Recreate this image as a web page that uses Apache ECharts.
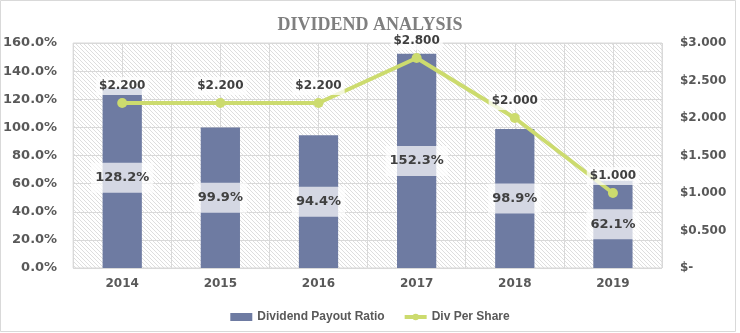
<!DOCTYPE html>
<html>
<head>
<meta charset="utf-8">
<script src="https://cdn.jsdelivr.net/npm/echarts@6/dist/echarts.min.js"></script>
<style>
html,body{margin:0;padding:0;background:#fff;}
#chart{width:740px;height:333px;}
</style>
</head>
<body>
<div id="chart"></div>
<script>
const categories = ['2014', '2015', '2016', '2017', '2018', '2019'];
const payoutRatio = [128.2, 99.9, 94.4, 152.3, 98.9, 62.1];
const divPerShare = [2.2, 2.2, 2.2, 2.8, 2.0, 1.0];
const seriesNames = ['Dividend Payout Ratio', 'Div Per Share'];
const titleText = 'DIVIDEND ANALYSIS';

// diagonal hatch pattern
const pc = document.createElement('canvas');
pc.width = 4; pc.height = 4;
const pctx = pc.getContext('2d');
pctx.fillStyle = '#ffffff';
pctx.fillRect(0, 0, 4, 4);
pctx.fillStyle = '#DEDEDE';
for (let y = 0; y < 4; y++) {
  for (let x = 0; x < 4; x++) {
    if (((x - y) % 4 + 4) % 4 === 0) pctx.fillRect(x, y, 1, 1);
  }
}

const chart = echarts.init(document.getElementById('chart'), null, {renderer: 'canvas'});
const axisFont = {fontFamily: 'DejaVu Sans', fontWeight: 'bold', color: '#595959'};

chart.setOption({
  animation: false,
  backgroundColor: '#ffffff',
  title: {
    text: titleText,
    left: 'center',
    top: 11,
    textStyle: {fontFamily: 'Liberation Serif', fontWeight: 'bold', fontSize: 18, color: '#7F7F7F'}
  },
  graphic: [{
    type: 'rect', silent: true, z: -10,
    shape: {x: 0.5, y: 0.5, width: 735, height: 331},
    style: {fill: 'none', stroke: '#D9D9D9', lineWidth: 1}
  }],
  legend: {
    top: 306,
    left: 'center',
    itemGap: 18,
    itemWidth: 22,
    itemHeight: 8,
    textStyle: {fontFamily: 'Liberation Sans', fontWeight: 'bold', fontSize: 12, color: '#595959'},
    data: [
      {name: seriesNames[0], icon: 'rect'},
      {name: seriesNames[1], lineStyle: {width: 4}}
    ]
  },
  grid: {
    left: 73, right: 78, top: 43, bottom: 65,
    show: true,
    borderColor: '#D9D9D9',
    borderWidth: 1,
    backgroundColor: {image: pc, repeat: 'repeat'}
  },
  xAxis: [{
    type: 'category',
    data: categories,
    axisLine: {show: false},
    axisTick: {show: false},
    splitLine: {show: false},
    axisLabel: Object.assign({fontSize: 12, margin: 10}, axisFont)
  }, {
    type: 'value',
    position: 'top',
    min: 0, max: 12, interval: 1,
    axisLine: {show: false},
    axisTick: {show: false},
    axisLabel: {show: false},
    splitLine: {show: true, lineStyle: {color: '#D9D9D9', width: 1}}
  }],
  yAxis: [{
    type: 'value',
    min: 0, max: 160, interval: 20,
    axisLine: {show: false},
    axisTick: {show: false},
    splitLine: {show: true, lineStyle: {color: '#D9D9D9', width: 1}},
    axisLabel: Object.assign({fontSize: 13, margin: 16, formatter: v => v.toFixed(1) + '%'}, axisFont)
  }, {
    type: 'value',
    position: 'right',
    min: 0, max: 3, interval: 0.5,
    axisLine: {show: false},
    axisTick: {show: false},
    splitLine: {show: false},
    axisLabel: Object.assign({fontSize: 12, margin: 18, formatter: v => v === 0 ? '$-' : '$' + v.toFixed(3)}, axisFont)
  }],
  series: [{
    name: seriesNames[0],
    type: 'bar',
    xAxisIndex: 0, yAxisIndex: 0,
    data: payoutRatio,
    barWidth: '40%',
    itemStyle: {color: '#6E7BA2'},
    label: {
      show: true,
      position: 'inside',
      formatter: p => p.value.toFixed(1) + '%',
      fontFamily: 'DejaVu Sans', fontWeight: 'bold', fontSize: 13,
      color: '#404040',
      backgroundColor: 'rgba(255,255,255,0.7)',
      padding: [8, 4],
      lineHeight: 14
    }
  }, {
    name: seriesNames[1],
    type: 'line',
    xAxisIndex: 0, yAxisIndex: 1,
    data: divPerShare,
    symbol: 'circle',
    symbolSize: 10,
    lineStyle: {color: '#CCDB6E', width: 4},
    itemStyle: {color: '#CCDB6E'},
    z: 3,
    label: {
      show: true,
      position: 'top',
      distance: 3,
      formatter: p => '$' + p.value.toFixed(3),
      fontFamily: 'DejaVu Sans', fontWeight: 'bold', fontSize: 12,
      color: '#404040',
      backgroundColor: 'rgba(255,255,255,0.75)',
      padding: [3, 3]
    }
  }]
});
</script>
</body>
</html>
